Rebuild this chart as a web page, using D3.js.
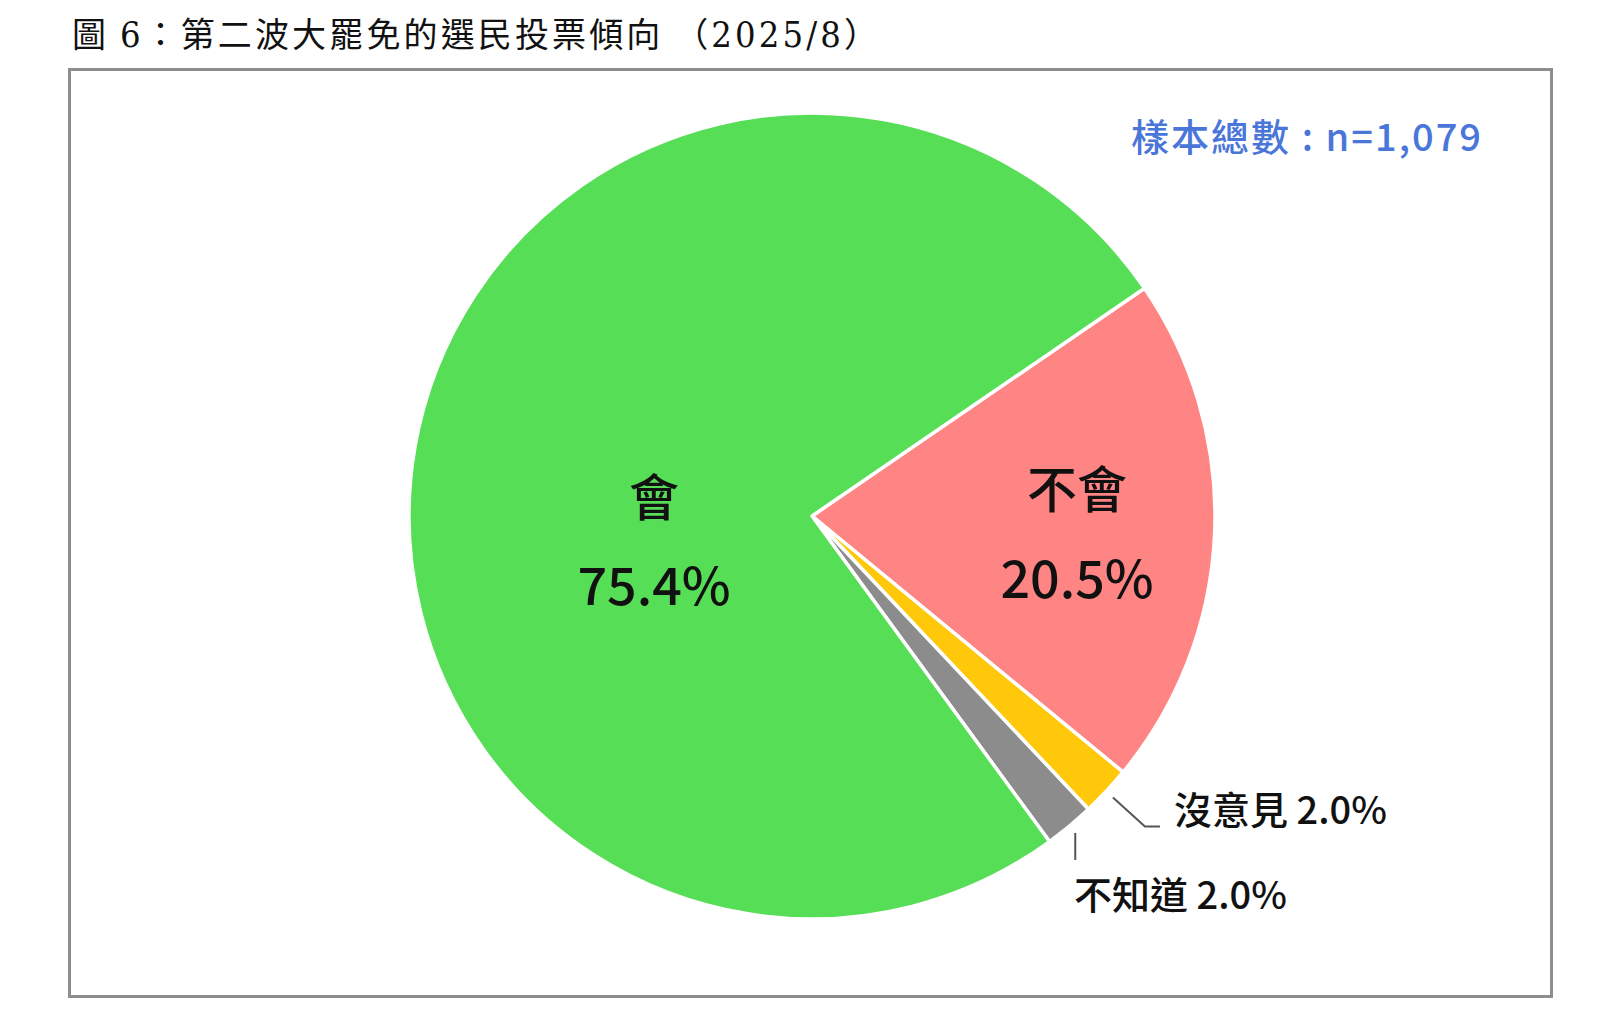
<!DOCTYPE html>
<html><head><meta charset="utf-8">
<script src="https://cdn.jsdelivr.net/npm/d3@7"></script>
<style>
html,body{margin:0;padding:0;background:#fff;}
svg{display:block;}
</style></head>
<body>
<svg id="c" width="1609" height="1018"></svg>
<script>
const categories = ["不會", "沒意見", "不知道", "會"];
const values = [20.5, 2.0, 2.0, 75.4];
const colors = ["#FF8585", "#FFC80A", "#8C8C8C", "#57DE57"];
const titleParts = ["圖 ", "6", "：第二波大罷免的選民投票傾向 （", "2025/8", "）"];
const sampleLabel = "樣本總數";
const sampleValue = "n=1,079";

const svg = d3.select("#c");
const CJK = "'Noto Sans CJK TC','Noto Sans CJK SC',sans-serif";

// title
const title = svg.append("text")
  .attr("x", 72).attr("y", 47)
  .attr("font-family", "'Noto Sans CJK TC',serif")
  .attr("font-size", 34)
  .attr("fill", "#111")
  .attr("textLength", 806)
  .attr("lengthAdjust", "spacing");
titleParts.forEach((t, i) => {
  const ts = title.append("tspan").text(t);
  if (i === 1 || i === 3) {
    ts.attr("font-family", "'DejaVu Serif Condensed','Liberation Serif',serif")
      .attr("font-stretch", "condensed")
      .attr("font-size", 36);
  }
});

// frame
svg.append("rect")
  .attr("x", 69.5).attr("y", 69.5).attr("width", 1482).attr("height", 927)
  .attr("fill", "none").attr("stroke", "#8e8e8e").attr("stroke-width", 3);

// sample size
svg.append("text")
  .attr("x", 1131).attr("y", 151)
  .attr("font-family", CJK)
  .attr("font-size", 38)
  .attr("font-weight", 500)
  .attr("fill", "#4A76DA")
  .attr("textLength", 350)
  .attr("lengthAdjust", "spacing")
  .text(sampleLabel + " : " + sampleValue);

const cx = 812, cy = 516, R = 403;
const start = 55.6 * Math.PI / 180;
const pie = d3.pie().sort(null).value(d => d).startAngle(start).endAngle(start + 2 * Math.PI);
const arcs = pie(values);
const arc = d3.arc().innerRadius(0).outerRadius(R);

const g = svg.append("g").attr("transform", `translate(${cx},${cy})`);
g.selectAll("path.slice").data(arcs).join("path")
  .attr("class", "slice")
  .attr("d", arc)
  .attr("fill", (d, i) => colors[i])
  .attr("stroke", "#fff")
  .attr("stroke-width", 3.5)
  .attr("stroke-linejoin", "round");

const fmt = v => v.toFixed(1) + "%";

// inner labels
const inner = [
  { i: 3, x: 654, y1: 516, y2: 605 },
  { i: 0, x: 1077, y1: 508, y2: 598 }
];
inner.forEach(o => {
  svg.append("text").attr("x", o.x).attr("y", o.y1).attr("text-anchor", "middle")
    .attr("font-family", CJK).attr("font-size", 50).attr("font-weight", 500).attr("fill", "#111")
    .text(categories[o.i]);
  svg.append("text").attr("x", o.x).attr("y", o.y2).attr("text-anchor", "middle")
    .attr("font-family", CJK).attr("font-size", 52).attr("font-weight", 500).attr("fill", "#111")
    .text(fmt(values[o.i]));
});

// outer labels with leader lines
const lineArc = d3.arc().innerRadius(412).outerRadius(412);
// 沒意見
{
  const p = lineArc.centroid(arcs[1]);
  const x0 = cx + p[0], y0 = cy + p[1];
  svg.append("path")
    .attr("d", `M${x0},${y0} L${x0 + 32},${y0 + 29} L${x0 + 47},${y0 + 29}`)
    .attr("fill", "none").attr("stroke", "#555").attr("stroke-width", 2);
  svg.append("text").attr("x", 1174).attr("y", 824)
    .attr("font-family", CJK).attr("font-size", 38).attr("font-weight", 500).attr("fill", "#111")
    .text(categories[1] + " " + fmt(values[1]));
}
// 不知道
{
  const p = lineArc.centroid(arcs[2]);
  const x0 = cx + p[0], y0 = cy + p[1];
  svg.append("path")
    .attr("d", `M${x0},${y0} L${x0},${y0 + 27}`)
    .attr("fill", "none").attr("stroke", "#555").attr("stroke-width", 2);
  svg.append("text").attr("x", 1074).attr("y", 909)
    .attr("font-family", CJK).attr("font-size", 38).attr("font-weight", 500).attr("fill", "#111")
    .text(categories[2] + " " + fmt(values[2]));
}
</script>
</body></html>
